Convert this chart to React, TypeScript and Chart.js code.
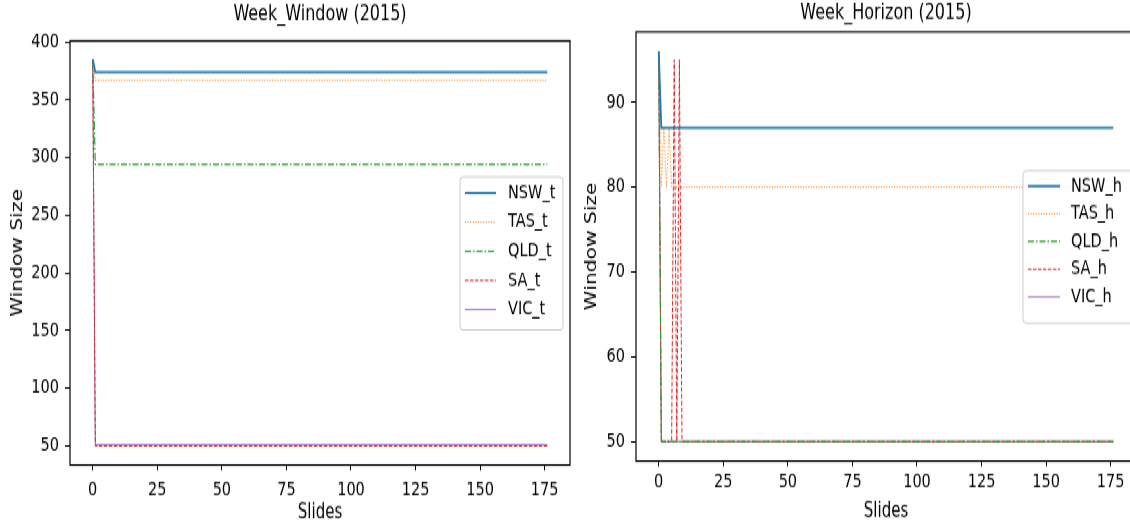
import React, { useEffect, useRef } from "react";
import { Chart, registerables } from "chart.js";
Chart.register(...registerables);

// ---- data ----
const slidesT = [0, 1, 176];
const nswT = [385, 374, 374];
const tasT = [385, 367, 367];
const qldT = [385, 294, 294];
const saT = [385, 50, 50];
const vicT = [385, 51, 51];

const slidesH = [0, 1, 2, 3, 4, 5, 6, 7, 8, 9, 176];
const nswH = [96, 87, 87, 87, 87, 87, 87, 87, 87, 87, 87];
const tasH = [96, 80, 87, 80, 87, 80, 80, 80, 80, 80, 80];
const qldH = [96, 50, 50, 50, 50, 50, 50, 50, 50, 50, 50];
const saH = [96, 50, 50, 50, 50, 50, 95, 50, 95, 50, 50];
const vicH = [96, 50, 50, 50, 50, 50, 50, 50, 50, 50, 50];

const xTicks = [0, 25, 50, 75, 100, 125, 150, 175];
const yTicksT = [50, 100, 150, 200, 250, 300, 350, 400];
const yTicksH = [50, 60, 70, 80, 90];

const labelsT = ["NSW_t", "TAS_t", "QLD_t", "SA_t", "VIC_t"];
const labelsH = ["NSW_h", "TAS_h", "QLD_h", "SA_h", "VIC_h"];

// ---- styles ----
const COLORS = ["#1f77b4", "#ff7f0e", "#2ca02c", "#d62728", "#9467bd"];
const WIDTHS = [1.8, 1, 1.2, 1, 1];
const DASHES: number[][] = [[], [1, 1.6], [6, 2, 1.5, 2], [3.5, 1.5], []];
const FONT = "'DejaVu Sans', sans-serif";

const CH = 389;
const S = 525 / CH;

const overlayPlugin = {
  id: "overlay",
  afterDatasetsDraw(chart: any, _args: any, opts: any) {
    const { ctx, chartArea: a } = chart;
    ctx.save();
    ctx.strokeStyle = "#000";
    ctx.lineWidth = 1.2;
    ctx.strokeRect(a.left, a.top, a.right - a.left, a.bottom - a.top);
    // title
    ctx.fillStyle = "#000";
    ctx.font = `16px ${FONT}`;
    ctx.textAlign = "center";
    ctx.textBaseline = "middle";
    ctx.fillText(opts.title, (a.left + a.right) / 2, opts.titleY / S);
    // legend
    const L = opts.legend;
    const bx = L.box[0], by = L.box[1] / S, bw = L.box[2], bh = L.box[3] / S;
    ctx.beginPath();
    const r = 3;
    ctx.moveTo(bx + r, by);
    ctx.lineTo(bx + bw - r, by);
    ctx.quadraticCurveTo(bx + bw, by, bx + bw, by + r);
    ctx.lineTo(bx + bw, by + bh - r);
    ctx.quadraticCurveTo(bx + bw, by + bh, bx + bw - r, by + bh);
    ctx.lineTo(bx + r, by + bh);
    ctx.quadraticCurveTo(bx, by + bh, bx, by + bh - r);
    ctx.lineTo(bx, by + r);
    ctx.quadraticCurveTo(bx, by, bx + r, by);
    ctx.closePath();
    ctx.fillStyle = "rgba(255,255,255,0.85)";
    ctx.fill();
    ctx.strokeStyle = "#cccccc";
    ctx.lineWidth = 1;
    ctx.stroke();
    ctx.font = `14.5px ${FONT}`;
    ctx.textAlign = "left";
    ctx.textBaseline = "middle";
    chart.data.datasets.forEach((ds: any, i: number) => {
      const y = (L.y0 + i * L.dy) / S;
      ctx.beginPath();
      ctx.strokeStyle = ds.borderColor;
      ctx.lineWidth = ds.borderWidth;
      ctx.setLineDash(ds.borderDash || []);
      ctx.moveTo(L.x1, y);
      ctx.lineTo(L.x2, y);
      ctx.stroke();
      ctx.setLineDash([]);
      ctx.fillStyle = "#000";
      ctx.fillText(ds.label, L.tx, y);
    });
    ctx.restore();
  },
};

function makeConfig(p: any) {
  const datasets = p.series.map((ys: number[], i: number) => ({
    label: p.labels[i],
    data: p.xs.map((x: number, j: number) => ({ x, y: ys[j] })),
    borderColor: COLORS[i],
    borderWidth: WIDTHS[i],
    borderDash: DASHES[i],
    pointRadius: 0,
    fill: false,
    tension: 0,
  }));
  const tickFont = { family: FONT, size: 14.5 };
  return {
    type: "line",
    data: { datasets },
    plugins: [overlayPlugin],
    options: {
      responsive: false,
      animation: false,
      events: [],
      layout: { padding: { top: p.padTop, right: p.padRight, left: 0, bottom: 0 } },
      plugins: {
        legend: { display: false },
        tooltip: { enabled: false },
        title: { display: false },
        overlay: { title: p.title, titleY: p.titleY, legend: p.legend },
      },
      scales: {
        x: {
          type: "linear",
          min: -8.8,
          max: 184.8,
          afterBuildTicks: (s: any) => {
            s.ticks = xTicks.map((v) => ({ value: v }));
          },
          afterFit: (s: any) => {
            s.height = p.xHeight;
          },
          grid: { drawOnChartArea: false, drawTicks: true, tickLength: 4, tickColor: "#000", tickWidth: 1 },
          border: { display: false },
          ticks: { color: "#000", font: tickFont, padding: p.xPad, maxRotation: 0, autoSkip: false },
          title: { display: true, text: "Slides", color: "#000", font: { family: FONT, size: 15 }, padding: { top: 0, bottom: p.xTitlePad } },
        },
        y: {
          type: "linear",
          min: p.yMin,
          max: p.yMax,
          afterBuildTicks: (s: any) => {
            s.ticks = p.yTicks.map((v: number) => ({ value: v }));
          },
          afterFit: (s: any) => {
            s.width = p.yWidth;
          },
          grid: { drawOnChartArea: false, drawTicks: true, tickLength: 5, tickColor: "#000", tickWidth: 1 },
          border: { display: false },
          ticks: { color: "#000", font: tickFont, padding: 6, autoSkip: false },
          title: { display: true, text: "Window Size", color: "#000", font: { family: FONT, size: 15 }, padding: { top: p.yTitlePad, bottom: 0 } },
        },
      },
    },
  };
}

const leftCfg = () =>
  makeConfig({
    xs: slidesT,
    series: [nswT, tasT, qldT, saT, vicT],
    labels: labelsT,
    title: "Week_Window (2015)",
    titleY: 15,
    padTop: 41 / S,
    padRight: 10,
    xHeight: CH - 465 / S,
    xPad: 6,
    xTitlePad: -0.5,
    yMin: 33.5,
    yMax: 400.9,
    yTicks: yTicksT,
    yWidth: 70,
    yTitlePad: 9,
    legend: { box: [460, 177, 103, 153], x1: 465, x2: 496, tx: 508, y0: 193, dy: 29.2 },
  });

const rightCfg = () =>
  makeConfig({
    xs: slidesH,
    series: [nswH, tasH, qldH, saH, vicH],
    labels: labelsH,
    title: "Week_Horizon (2015)",
    titleY: 13,
    padTop: 32 / S,
    padRight: 4,
    xHeight: CH - 461 / S,
    xPad: 3,
    xTitlePad: 0.5,
    yMin: 47.7,
    yMax: 98.3,
    yTicks: yTicksH,
    yWidth: 56,
    yTitlePad: 3,
    legend: { box: [1023 - 580, 171, 115, 152], x1: 1028 - 580, x2: 1060 - 580, tx: 1071 - 580, y0: 186, dy: 27.7 },
  });

function ChartCanvas({ cfg, left, width }: { cfg: () => any; left: number; width: number }) {
  const ref = useRef<HTMLCanvasElement>(null);
  useEffect(() => {
    const c = new Chart(ref.current as HTMLCanvasElement, cfg());
    return () => c.destroy();
  }, []);
  return (
    <canvas
      ref={ref}
      width={width}
      height={CH}
      style={{ position: "absolute", left, top: 0, width, height: CH }}
    />
  );
}

export default function App() {
  return (
    <div style={{ position: "fixed", left: 0, top: 0, width: 1130, height: 525, overflow: "hidden", background: "#fff" }}>
      <div
        style={{
          position: "absolute",
          left: 0,
          top: 0,
          width: 1140,
          height: CH,
          transform: `scaleY(${S})`,
          transformOrigin: "0 0",
        }}
      >
        <ChartCanvas cfg={leftCfg} left={0} width={580} />
        <ChartCanvas cfg={rightCfg} left={580} width={560} />
      </div>
    </div>
  );
}
